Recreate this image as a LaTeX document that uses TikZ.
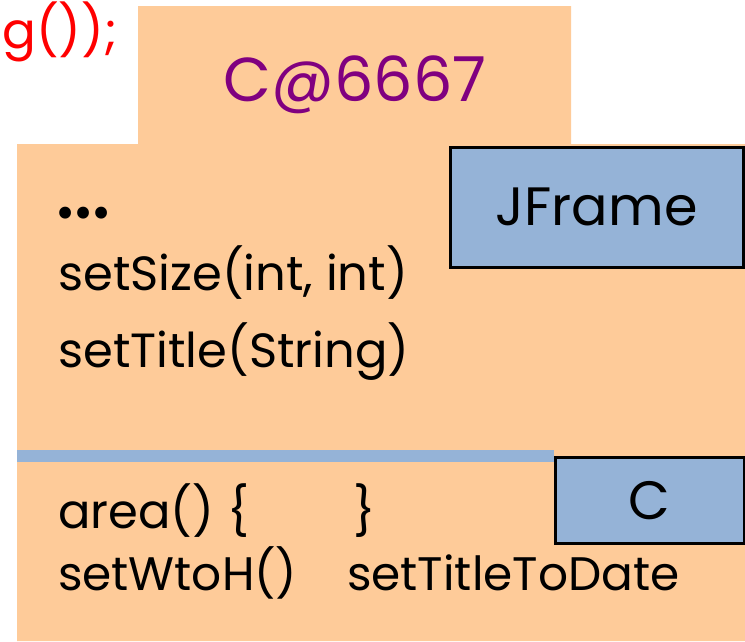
\documentclass[tikz,border=0pt]{standalone}
\usepackage{fontspec}
\setmainfont{Poppins}
\definecolor{peach}{RGB}{254,203,153}
\definecolor{boxblue}{RGB}{149,179,215}
\definecolor{objpurple}{RGB}{128,0,128}
\tikzset{
  classbox/.style={draw=black, line width=2.5pt, fill=boxblue, inner sep=0pt, anchor=north west,
    font=\fontsize{54}{60}\selectfont},
  member/.style={anchor=base west, inner sep=0pt, font=\fontsize{48}{56}\selectfont}
}
\begin{document}
\begin{tikzpicture}[x=1pt,y=-1pt]
\useasboundingbox (0,0) rectangle (745,641);

% object
\fill[peach] (138,6) -- (571,6) -- (571,144) -- (745,144) -- (745,641)
  -- (17,641) -- (17,144) -- (138,144) -- cycle;
\fill[boxblue] (17,450) rectangle (554,462);

\node[anchor=base west, inner sep=0pt, text=red, font=\fontsize{50}{56}\selectfont] (call) at (2,48) {g());};
\node[anchor=base, inner sep=0pt, text=objpurple, font=\fontsize{62}{70}\selectfont] (objname) at (355,101) {C@6667};

% partitions
\node[classbox, minimum width=293pt, minimum height=120pt] (jframe) at (449,146) {JFrame};
\node[classbox, minimum width=189pt, minimum height=86pt] (cls) at (554,456) {C};

\node[member, font=\fontsize{96}{100}\selectfont] (dots) at (55,218) {…};
\node[member] (setsize) at (58,290) {setSize(int, int)};
\node[member] (settitle) at (58,367) {setTitle(String)};
\node[member] (area) at (58,528) {area() \{\hspace{104pt}\}};
\node[member, font=\fontsize{47}{52}\selectfont] (wtoh) at (58,590) {setWtoH()\hspace{50pt}setTitleToDate};
\end{tikzpicture}
\end{document}
